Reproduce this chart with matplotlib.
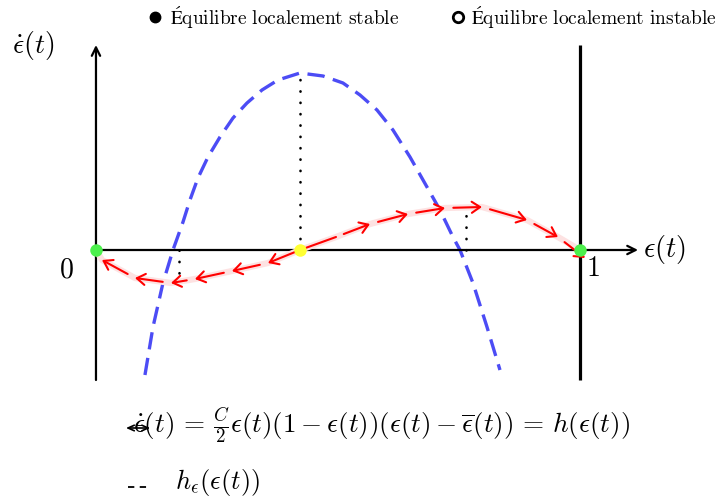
import matplotlib
matplotlib.use("Agg")
import matplotlib.pyplot as plt

plt.rcParams['mathtext.fontset'] = 'cm'
plt.rcParams['font.family'] = ['DejaVu Serif']

# ---- data (x = epsilon, y = arbitrary units) ----
eps_bar = 0.4215
eps_min = 0.1715
eps_max = 0.7645
h_min = -0.33
h_max = 0.40
blue_peak = 1.77

# red trajectory, flow toward 0 (from unstable point)
red_left_x = [0.4215, 0.3554, 0.2810, 0.2045, 0.1550, 0.0806, 0.0124]
red_left_y = [0.00, -0.13, -0.21, -0.29, -0.33, -0.28, -0.10]
# red trajectory, flow toward 1
red_right_x = [0.4215, 0.4959, 0.5661, 0.6446, 0.7211, 0.7975, 0.8905, 0.9545, 1.0103]
red_right_y = [0.00, 0.13, 0.26, 0.36, 0.42, 0.43, 0.30, 0.13, -0.08]

# blue dashed curve h_eps
blue_x = [0.1012, 0.1178, 0.1384, 0.1591, 0.1798, 0.1942, 0.2107, 0.2314, 0.2562,
          0.2831, 0.3120, 0.3430, 0.3760, 0.4215, 0.4690, 0.5103, 0.5455, 0.5806,
          0.6136, 0.6488, 0.6839, 0.7107, 0.7376, 0.7521, 0.7789, 0.8079, 0.8347]
blue_y = [-1.25, -0.77, -0.33, 0.00, 0.28, 0.50, 0.72, 0.93, 1.13,
          1.32, 1.47, 1.60, 1.70, 1.77, 1.74, 1.67, 1.55, 1.40,
          1.20, 0.93, 0.63, 0.40, 0.13, 0.00, -0.33, -0.77, -1.20]

stable_x = [0.0, 1.0]
unstable_x = [eps_bar]

fig = plt.figure(figsize=(7.2, 4.99), dpi=100)
ax = fig.add_axes([0, 0, 1, 1])
ax.set_xlim(-0.1983, 1.2893)
ax.set_ylim(-2.49, 2.50)
ax.axis('off')

# axes
ax.annotate('', xy=(1.12, 0), xytext=(0, 0),
            arrowprops=dict(arrowstyle='->,head_length=0.6,head_width=0.3', color='black', lw=1.6,
                            shrinkA=0, shrinkB=0), zorder=3)
ax.annotate('', xy=(0, 2.05), xytext=(0, -1.30),
            arrowprops=dict(arrowstyle='->,head_length=0.6,head_width=0.3', color='black', lw=1.6,
                            shrinkA=0, shrinkB=0), zorder=3)
ax.plot([1, 1], [-1.30, 2.05], color='black', lw=2.3, zorder=3, solid_capstyle='butt')

# dotted guides
dot = dict(color='black', lw=1.9, linestyle=(0, (0.1, 4.2)), dash_capstyle='round', zorder=4)
ax.plot([eps_bar, eps_bar], [0, blue_peak], **dot)
ax.plot([eps_min, eps_min], [0, h_min], **dot)
ax.plot([eps_max, eps_max], [0, h_max], **dot)

# blue dashed curve
ax.plot(blue_x, blue_y, color='#4c4cf5', lw=2.4, linestyle=(0, (5.2, 2.6)), zorder=2,
        solid_joinstyle='round')

# red halo
halo_x = [0.0] + red_left_x[::-1] + red_right_x[1:-1] + [1.0]
halo_y = [0.0] + red_left_y[::-1] + red_right_y[1:-1] + [0.0]
ax.plot(halo_x, halo_y, color='#fde2e2', lw=4.5, solid_capstyle='round', zorder=4)

# red arrows
def arrows(xs, ys, first_plain=False):
    for i in range(1, len(xs)):
        style = '-' if (first_plain and i == 1) else '->,head_length=0.6,head_width=0.4'
        ax.annotate('', xy=(xs[i], ys[i]), xytext=(xs[i - 1], ys[i - 1]),
                    arrowprops=dict(arrowstyle=style, color='red', lw=1.5,
                                    shrinkA=6 if i > 1 else 0, shrinkB=0), zorder=5)

arrows(red_left_x, red_left_y)
arrows(red_right_x, red_right_y, first_plain=True)

# equilibrium points
ax.plot(stable_x, [0, 0], 'o', color='#4cf04c', markersize=9, zorder=6, markeredgewidth=0)
ax.plot(unstable_x, [0], 'o', color='#ffff33', markersize=9, zorder=6, markeredgewidth=0)

# axis labels
ax.text(-0.062, -0.20, r'$0$', fontsize=20, ha='center', va='center')
ax.text(1.027, -0.18, r'$1$', fontsize=20, ha='center', va='center')
ax.text(1.130, 0.0, r'$\epsilon(t)$', fontsize=20.5, ha='left', va='center')
ax.text(-0.130, 2.05, r'$\dot{\epsilon}(t)$', fontsize=20, ha='center', va='center')

# top legend
ax.plot([0.1219], [2.33], 'o', color='black', markersize=7.5)
ax.text(0.153, 2.33, r'$\mathrm{Équilibre\ localement\ stable}$', fontsize=14,
        ha='left', va='center')
ax.plot([0.748], [2.33], 'o', markerfacecolor='white', markeredgecolor='black',
        markeredgewidth=2, markersize=7.5)
ax.text(0.774, 2.33, r'$\mathrm{Équilibre\ localement\ instable}$', fontsize=14,
        ha='left', va='center')

# bottom legend
ax.annotate('', xy=(0.112, -1.78), xytext=(0.062, -1.78),
            arrowprops=dict(arrowstyle='<->,head_length=0.45,head_width=0.2', color='black', lw=1.2,
                            shrinkA=0, shrinkB=0), zorder=5)
ax.text(0.0764, -1.75,
        r'$\dot{\epsilon}(t)\,=\,\frac{C}{2}\epsilon(t)(1-\epsilon(t))(\epsilon(t)-\overline{\epsilon}(t))\,=\,h(\epsilon(t))$',
        fontsize=19.5, ha='left', va='center')
ax.plot([0.066, 0.112], [-2.37, -2.37], color='black', lw=1.3, linestyle=(0, (3.5, 3)))
ax.text(0.163, -2.33, r'$h_{\epsilon}(\epsilon(t))$', fontsize=19, ha='left', va='center')

fig.savefig('out.png', dpi=100)
